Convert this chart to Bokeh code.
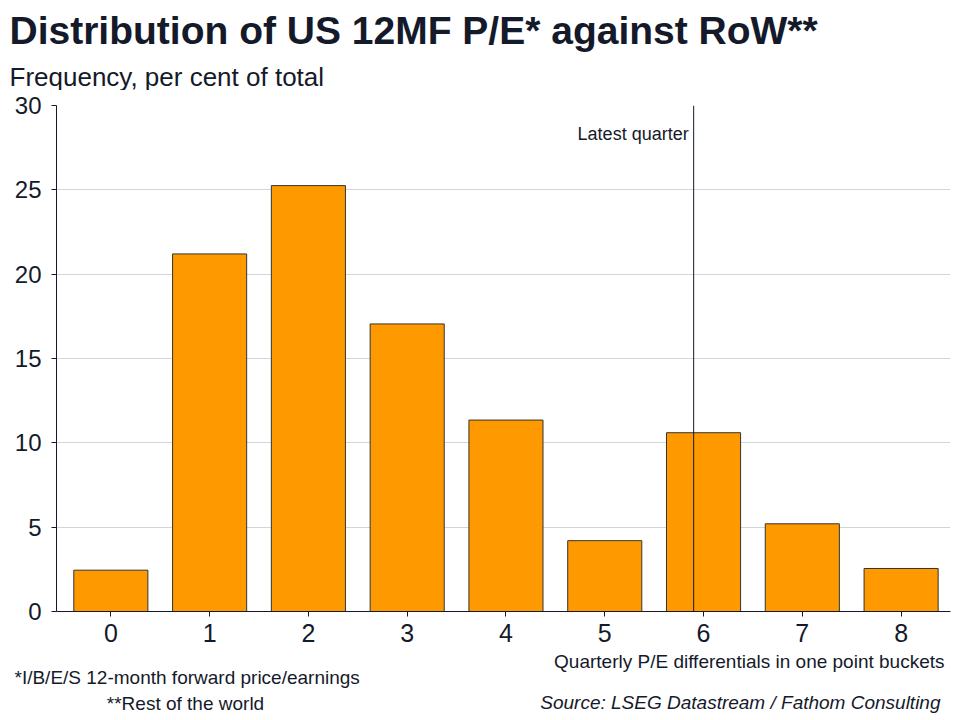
from bokeh.plotting import figure
from bokeh.models import ColumnDataSource, Span, Label, FixedTicker, Range1d
from bokeh.layouts import column
from bokeh.core.properties import value
from bokeh.embed import file_html
from bokeh.resources import INLINE

buckets = [0, 1, 2, 3, 4, 5, 6, 7, 8]
frequency = [2.45, 21.2, 25.25, 17.05, 11.35, 4.2, 10.6, 5.2, 2.55]
y_ticks = [0, 5, 10, 15, 20, 25, 30]
latest_quarter = 5.9

title_text = "Distribution of US 12MF P/E* against RoW**"
subtitle_text = "Frequency, per cent of total"
xlabel_text = "Quarterly P/E differentials in one point buckets"
note1_text = "*I/B/E/S 12-month forward price/earnings"
note2_text = "**Rest of the world"
source_text = "Source: LSEG Datastream / Fathom Consulting"

FONT = "Liberation Sans"
INK = "#141a2a"
W = 955
H_TOP = 90
MAIN_TOP = 15      # frame top at page y=105
FRAME_H = 506      # frame bottom at page y=611
MAIN_BOTTOM = 38
H_MAIN = MAIN_TOP + FRAME_H + MAIN_BOTTOM
H_BOT = 66
FL, FR = 56, 950


def blank(h):
    f = figure(width=W, height=h, output_backend="svg", toolbar_location=None,
               x_range=Range1d(0, W), y_range=Range1d(h, 0),
               x_axis_location=None, y_axis_location=None,
               min_border=0, min_border_left=0, min_border_right=0,
               min_border_top=0, min_border_bottom=0, frame_align=False)
    f.outline_line_color = None
    f.grid.visible = False
    f.background_fill_color = "white"
    f.border_fill_color = "white"
    return f


def put(f, x, y, t, align, size, style="normal"):
    f.text(x=[x], y=[y], text=[t], text_align=align, text_baseline="middle",
           text_font=value(FONT), text_font_size=size, text_font_style=style,
           text_color=INK)


top = blank(H_TOP)
put(top, 9, 30, title_text, "left", "39px", "bold")
put(top, 9, 76, subtitle_text, "left", "26px")

p = figure(width=W, height=H_MAIN, output_backend="svg", toolbar_location=None,
           x_range=Range1d(-0.55, 8.5), y_range=Range1d(0, 30),
           min_border_left=FL, min_border_right=W - FR,
           min_border_top=MAIN_TOP, min_border_bottom=MAIN_BOTTOM,
           frame_align=False)
p.outline_line_color = None
p.background_fill_color = "white"
p.border_fill_color = "white"

src = ColumnDataSource(dict(x=buckets, top=frequency))
p.vbar(x="x", top="top", bottom=0, width=0.75, source=src,
       fill_color="#ff9900", line_color="#333333", line_width=1)

p.xgrid.visible = False
p.ygrid.ticker = FixedTicker(ticks=y_ticks)
p.ygrid.grid_line_color = "#d3d6d6"
p.ygrid.grid_line_width = 1

p.yaxis.ticker = FixedTicker(ticks=y_ticks)
p.xaxis.ticker = FixedTicker(ticks=buckets)
for ax in (p.xaxis, p.yaxis):
    ax.axis_line_color = INK
    ax.major_tick_line_color = INK
    ax.minor_tick_line_color = None
    ax.major_tick_in = 0
    ax.major_tick_out = 5
    ax.major_label_text_font = FONT
    ax.major_label_text_color = INK
p.yaxis.major_label_text_font_size = "24px"
p.yaxis.major_label_standoff = 10
p.xaxis.major_label_text_font_size = "25px"
p.xaxis.major_label_standoff = 7

p.add_layout(Span(location=latest_quarter, dimension="height",
                  line_color=INK, line_width=1))
p.add_layout(Label(x=latest_quarter, y=28.33, x_offset=-5, text="Latest quarter",
                   text_align="right", text_baseline="middle",
                   text_font=FONT, text_font_size="18px", text_color=INK))

bot = blank(H_BOT)
y0 = H_TOP + H_MAIN
put(bot, 944, 661 - y0, xlabel_text, "right", "19px")
put(bot, 14, 677 - y0, note1_text, "left", "19px")
put(bot, 185, 703 - y0, note2_text, "center", "19px")
put(bot, 940, 702 - y0, source_text, "right", "19px", "italic")

layout = column(top, p, bot, spacing=0)
open("out.html", "w").write(file_html(layout, INLINE))
